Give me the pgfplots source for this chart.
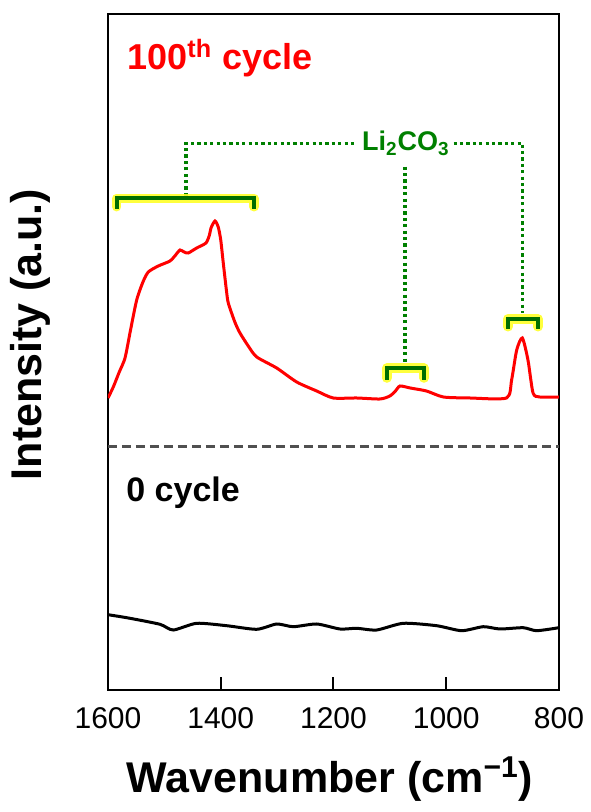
\documentclass[border=0pt]{standalone}
\usepackage{fontspec}
\setmainfont{Liberation Sans}
\usepackage{pgfplots}
\pgfplotsset{compat=1.18}
\definecolor{lgreen}{RGB}{0,128,0}
\definecolor{bgreen}{RGB}{0,110,0}
\definecolor{glow}{RGB}{255,255,40}
\definecolor{dgray}{RGB}{80,80,80}
\begin{document}
\begin{tikzpicture}
\begin{axis}[
  scale only axis,
  width=225.5pt, height=338pt,
  xmin=800, xmax=1600, ymin=0, ymax=676,
  x dir=reverse,
  xtick={800,1000,1200,1400,1600},
  ytick=\empty,
  tick align=inside,
  xtick pos=bottom,
  major tick length=6.5pt,
  axis line style={line width=1pt},
  every tick/.style={black, line width=1pt},
  /pgf/number format/assume math mode=true,
  /pgf/number format/set thousands separator={},
  xticklabel style={font=\fontsize{15}{18}\selectfont, yshift=-5pt},
  xlabel={\textbf{Wavenumber (cm\textsuperscript{−1})}},
  ylabel={\textbf{Intensity (a.u.)}},
  label style={font=\fontsize{21.5}{26}\selectfont},
  xlabel style={at={(axis description cs:0.4922,-0.1317)}, anchor=center},
  ylabel style={at={(axis description cs:-0.1718,0.5259)}, anchor=center},
]
% 100th cycle (red)
\addplot[red, line width=1.5pt, smooth, tension=0.4] coordinates {
(1600,292) (1590.6,303) (1580,318) (1569.8,332) (1560,360) (1549.1,390)
(1538,408) (1528.5,418) (1510.8,424) (1490,429) (1480,435) (1472.3,440)
(1465,438) (1457.6,437) (1442.7,442) (1426.2,447) (1420,455) (1417.3,462)
(1410.2,469) (1404.4,463) (1400,450) (1395.5,427) (1390,400) (1386.6,387)
(1375,368) (1365.9,357) (1350,343) (1336.2,333) (1300.8,322) (1265.3,308)
(1229.8,299) (1200.4,292) (1158.9,292) (1117.5,291) (1100,294) (1090,299)
(1082,304) (1064,302) (1035,299) (1005,293) (958,292) (893,292)
(884,310) (875,340) (865,352) (855,330) (846,297) (834,293) (800,293)
};
% 0 cycle (black)
\addplot[black, line width=1.5pt, smooth, tension=0.4] coordinates {
(1600,75) (1596.5,75) (1561.0,71.7) (1507.8,65.7) (1484.2,60) (1442.7,66.7)
(1389.5,64.3) (1336.2,60.7) (1300.8,66) (1271.3,63.3) (1229.8,66)
(1188.5,61) (1158.9,61.7) (1123.4,60) (1076.2,66.7) (1017.0,64.3)
(972.6,59.3) (934.3,63.3) (904.7,61) (863.4,62.3) (839.6,59.3) (800,62.3)
};
% separator
\addplot[dgray, line width=1.5pt, dash pattern=on 4.7pt off 2.3pt] coordinates {(1600,243.3) (800,243.3)};
% labels
\node[anchor=base west, inner sep=0pt, text=red, font=\fontsize{18}{22}\selectfont\bfseries] at (axis cs:1566.3,620) {100\textsuperscript{th} cycle};
\node[anchor=base west, inner sep=0pt, text=black, font=\fontsize{17}{20}\selectfont\bfseries] at (axis cs:1568.1,188.3) {0 cycle};
\node[anchor=base, inner sep=0pt, text=lgreen, font=\fontsize{13.5}{16}\selectfont\bfseries] at (axis cs:1071.4,539) {Li\textsubscript{2}CO\textsubscript{3}};
% dotted guides
\begin{scope}[lgreen, line width=1.6pt, dash pattern=on 1.6pt off 1.6pt]
\draw (axis cs:1461.6,494) -- (axis cs:1461.6,546.7) -- (axis cs:1161.9,546.7);
\draw (axis cs:987,546.7) -- (axis cs:864.4,546.7) -- (axis cs:864.4,377);
\draw (axis cs:1073.2,523.3) -- (axis cs:1073.2,326.7);
\end{scope}
% brackets: glow
\begin{scope}[glow, line width=4.8pt, line cap=round, line join=round, opacity=0.9]
\draw (axis cs:1584.6,483.3) -- (axis cs:1584.6,491.5) -- (axis cs:1341,491.5) -- (axis cs:1341,483.3);
\draw (axis cs:1105.6,312) -- (axis cs:1105.6,321.7) -- (axis cs:1039.5,321.7) -- (axis cs:1039.5,312);
\draw (axis cs:890.5,363.3) -- (axis cs:890.5,371) -- (axis cs:837.3,371) -- (axis cs:837.3,363.3);
\end{scope}
\begin{scope}[bgreen, line width=2pt, line cap=rect, line join=miter]
\draw (axis cs:1584.6,483.3) -- (axis cs:1584.6,491.5) -- (axis cs:1341,491.5) -- (axis cs:1341,483.3);
\draw (axis cs:1105.6,312) -- (axis cs:1105.6,321.7) -- (axis cs:1039.5,321.7) -- (axis cs:1039.5,312);
\draw (axis cs:890.5,363.3) -- (axis cs:890.5,371) -- (axis cs:837.3,371) -- (axis cs:837.3,363.3);
\end{scope}
\end{axis}
\path (current axis.south west) ++(-54pt,-61pt) rectangle ++(294pt,406pt);
\end{tikzpicture}
\end{document}
